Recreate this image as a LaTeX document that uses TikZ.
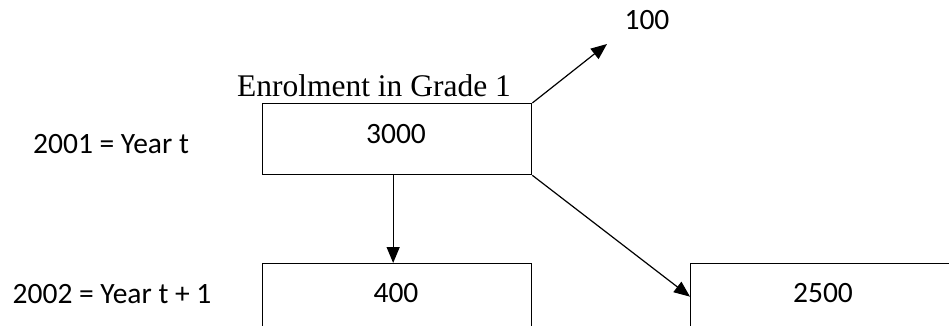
\documentclass[tikz,border=0pt]{standalone}
\usepackage{fontspec}
\setmainfont{Liberation Serif}
\newfontfamily\calfont{Carlito}
\usetikzlibrary{arrows.meta}
\tikzset{
  box/.style={draw, line width=1.3pt, rectangle, inner sep=0pt, anchor=north west},
  cal/.style={font=\calfont\fontsize{29.5}{34}\selectfont, inner sep=0pt, anchor=base},
  ser/.style={font=\fontsize{31.5}{36}\selectfont, inner sep=0pt, anchor=base},
  arr/.style={line width=1.2pt, -{Triangle[length=16pt,width=13pt]}}
}
\begin{document}
\begin{tikzpicture}[x=1pt,y=-1pt]
\useasboundingbox (0,0) rectangle (949,326);
\clip (0,0) rectangle (949,326);
\node[box, minimum width=269pt, minimum height=71pt] (top) at (262,103) {};
\node[box, minimum width=269pt, minimum height=66pt] (b400) at (262,263) {};
\node[box, minimum width=266pt, minimum height=66pt] (b2500) at (690,263) {};
\node[cal] (t3000) at (396,143) {3000};
\node[cal] (t400) at (396,302) {400};
\node[cal] (t2500) at (823,302) {2500};
\node[cal] (t100) at (647,30) {100};
\node[cal] (y1) at (111,153) {2001 = Year t};
\node[cal] (y2) at (112,303) {2002 = Year t + 1};
\node[ser] (title) at (374,96) {Enrolment in Grade 1};
\coordinate (out) at (607,44);
\draw[arr] (top.north east) -- (out);
\draw[arr] ([xshift=-4pt]top.south) -- ([xshift=-4pt]b400.north);
\draw[arr] (top.south east) -- (b2500.west);
\end{tikzpicture}
\end{document}
